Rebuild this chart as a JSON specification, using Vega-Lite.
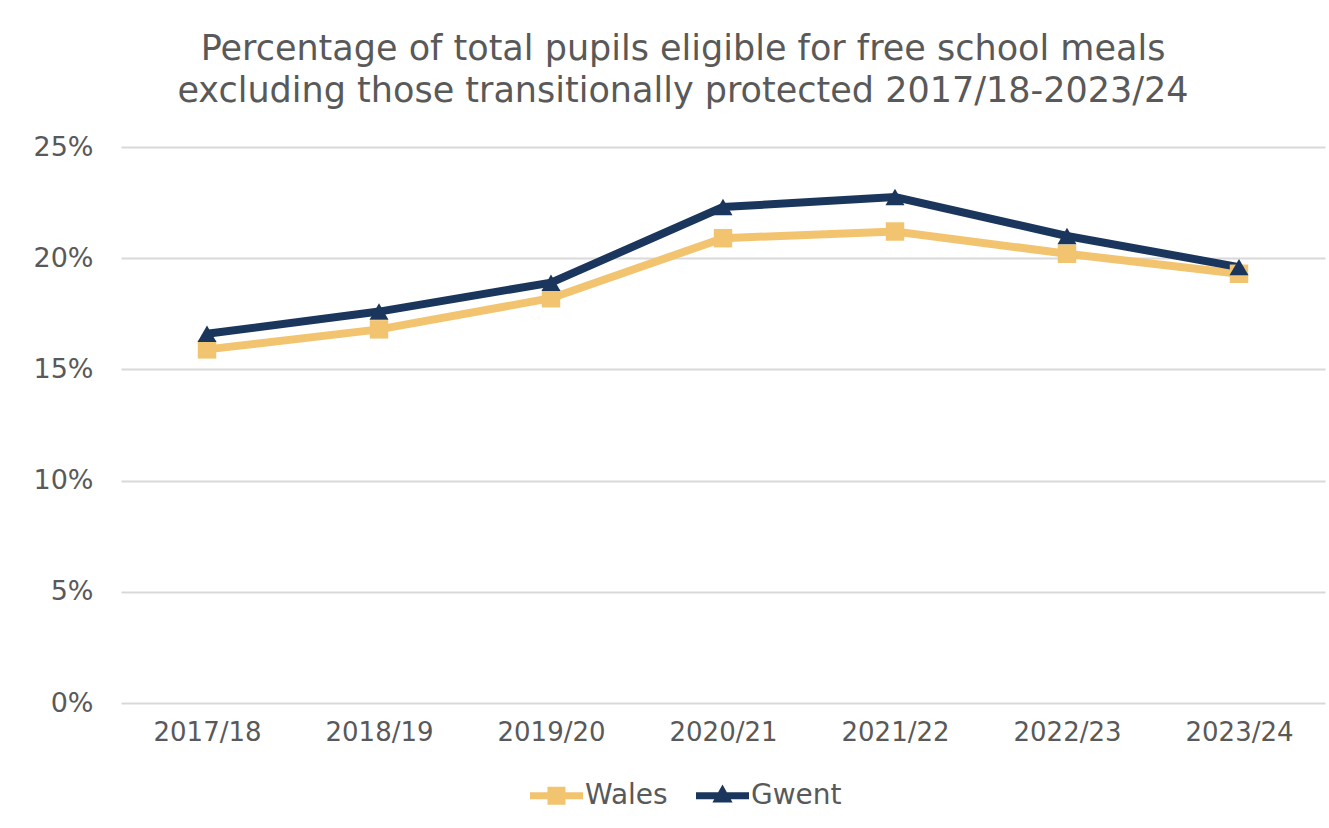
{
  "$schema": "https://vega.github.io/schema/vega-lite/v6.json",
  "width": 1204,
  "height": 556,
  "autosize": {"type": "none"},
  "padding": {"left": 121, "top": 147, "right": 4, "bottom": 125},
  "background": "white",
  "config": {"font": "DejaVu Sans", "view": {"stroke": null}},
  "title": {
    "text": ["Percentage  of total pupils eligible for free school meals", "excluding those transitionally protected 2017/18-2023/24"],
    "fontSize": 35,
    "fontWeight": "normal",
    "color": "#595959",
    "lineHeight": 42,
    "anchor": "middle",
    "frame": "group",
    "dx": -40,
    "offset": 24
  },
  "data": {
    "values": [
      {"year": "2017/18", "area": "Wales", "pct": 15.9},
      {"year": "2018/19", "area": "Wales", "pct": 16.8},
      {"year": "2019/20", "area": "Wales", "pct": 18.2},
      {"year": "2020/21", "area": "Wales", "pct": 20.9},
      {"year": "2021/22", "area": "Wales", "pct": 21.2},
      {"year": "2022/23", "area": "Wales", "pct": 20.2},
      {"year": "2023/24", "area": "Wales", "pct": 19.3},
      {"year": "2017/18", "area": "Gwent", "pct": 16.6},
      {"year": "2018/19", "area": "Gwent", "pct": 17.6},
      {"year": "2019/20", "area": "Gwent", "pct": 18.9},
      {"year": "2020/21", "area": "Gwent", "pct": 22.3},
      {"year": "2021/22", "area": "Gwent", "pct": 22.75},
      {"year": "2022/23", "area": "Gwent", "pct": 21.0},
      {"year": "2023/24", "area": "Gwent", "pct": 19.6}
    ]
  },
  "encoding": {
    "x": {
      "field": "year",
      "type": "ordinal",
      "sort": null,
      "title": null,
      "axis": {"labelAngle": 0, "ticks": false, "domain": false, "grid": false, "labelFontSize": 26, "labelColor": "#595959", "labelPadding": 16}
    },
    "y": {
      "field": "pct",
      "type": "quantitative",
      "title": null,
      "scale": {"domain": [0, 25], "nice": false},
      "axis": {"values": [0, 5, 10, 15, 20, 25], "labelExpr": "datum.value + '%'", "ticks": false, "domain": false, "grid": true, "gridColor": "#D9D9D9", "gridWidth": 2, "labelFontSize": 27, "labelColor": "#595959", "labelPadding": 28}
    },
    "color": {
      "field": "area",
      "type": "nominal",
      "sort": null,
      "scale": {"domain": ["Wales", "Gwent"], "range": ["#F2C46F", "#1B365D"]},
      "legend": {
        "title": null,
        "orient": "none",
        "direction": "horizontal",
        "legendX": 409,
        "legendY": 622,
        "labelFontSize": 28,
        "labelColor": "#595959",
        "labelOffset": 2,
        "columnPadding": 28,
        "symbolSize": 2809,
        "symbolType": "M-1,-0.13H1V0.13H-1Z M-0.34,-0.34H0.34V0.34H-0.34Z",
        "symbolStrokeWidth": 0,
        "symbolOpacity": 1,
        "encode": {
          "symbols": {
            "update": {
              "shape": {"signal": "datum.value === 'Wales' ? 'M-1,-0.13H1V0.13H-1Z M-0.34,-0.34H0.34V0.34H-0.34Z' : 'M-1,-0.13H1V0.13H-1Z M0,-0.42L0.38,0.25H-0.38Z'"},
              "fill": {"scale": "color", "field": "value"},
              "strokeWidth": {"value": 0},
              "opacity": {"value": 1}
            }
          }
        }
      }
    }
  },
  "layer": [
    {"mark": {"type": "line", "strokeWidth": 8}},
    {
      "transform": [{"filter": "datum.area === 'Wales'"}],
      "mark": {"type": "point", "filled": true, "opacity": 1, "size": 340, "shape": "square"}
    },
    {
      "transform": [{"filter": "datum.area === 'Gwent'"}],
      "mark": {"type": "point", "filled": true, "opacity": 1, "size": 360, "shape": "triangle-up"}
    }
  ]
}
